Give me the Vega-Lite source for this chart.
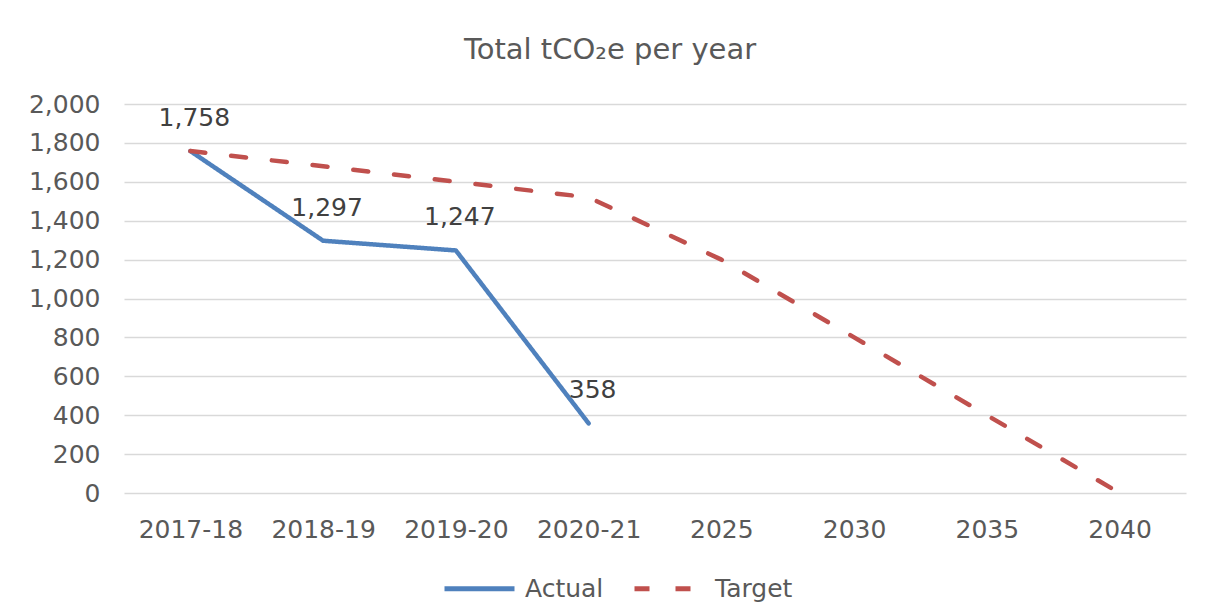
{
  "$schema": "https://vega.github.io/schema/vega-lite/v6.json",
  "autosize": {"type": "none"},
  "width": 1062,
  "height": 389,
  "padding": {"left": 124, "top": 104, "right": 20, "bottom": 122},
  "background": "white",
  "config": {
    "font": "DejaVu Sans",
    "view": {"stroke": null},
    "axis": {"labelFont": "DejaVu Sans", "labelColor": "#595959", "labelFontSize": 25, "ticks": false, "domain": false, "title": null},
    "legend": {"labelFont": "DejaVu Sans", "labelColor": "#595959", "labelFontSize": 25}
  },
  "title": {
    "text": "Total tCO₂e per year",
    "fontSize": 29,
    "font": "DejaVu Sans",
    "fontWeight": "normal",
    "color": "#595959",
    "anchor": "middle",
    "frame": "group",
    "dx": -45,
    "offset": 27
  },
  "data": {
    "values": [
      {"period": "2017-18", "series": "Actual", "value": 1758},
      {"period": "2018-19", "series": "Actual", "value": 1297},
      {"period": "2019-20", "series": "Actual", "value": 1247},
      {"period": "2020-21", "series": "Actual", "value": 358},
      {"period": "2017-18", "series": "Target", "value": 1758},
      {"period": "2018-19", "series": "Target", "value": 1680},
      {"period": "2019-20", "series": "Target", "value": 1600},
      {"period": "2020-21", "series": "Target", "value": 1520},
      {"period": "2025", "series": "Target", "value": 1200},
      {"period": "2030", "series": "Target", "value": 800},
      {"period": "2035", "series": "Target", "value": 400},
      {"period": "2040", "series": "Target", "value": 0}
    ]
  },
  "encoding": {
    "x": {
      "field": "period",
      "type": "ordinal",
      "sort": ["2017-18", "2018-19", "2019-20", "2020-21", "2025", "2030", "2035", "2040"],
      "scale": {"type": "point", "padding": 0.5},
      "axis": {"labelAngle": 0, "labelPadding": 24, "grid": false}
    },
    "y": {
      "field": "value",
      "type": "quantitative",
      "scale": {"domain": [0, 2000], "nice": false},
      "axis": {"values": [0, 200, 400, 600, 800, 1000, 1200, 1400, 1600, 1800, 2000], "format": ",.0f", "labelPadding": 24, "grid": true, "gridColor": "#d9d9d9", "gridWidth": 1.5}
    }
  },
  "layer": [
    {
      "mark": {"type": "line", "strokeWidth": 4.5, "strokeCap": "round", "strokeJoin": "round"},
      "encoding": {
        "color": {
          "field": "series",
          "type": "nominal",
          "scale": {"domain": ["Actual", "Target"], "range": ["#4F81BD", "#C0504D"]},
          "legend": {
            "title": null,
            "orient": "none",
            "direction": "horizontal",
            "legendX": 318,
            "legendY": 447,
            "symbolType": "stroke",
            "symbolSize": 4900,
            "symbolStrokeWidth": 5,
            "labelOffset": 8,
            "columnPadding": 20
          }
        },
        "strokeDash": {
          "field": "series",
          "type": "nominal",
          "scale": {"domain": ["Actual", "Target"], "range": [[1, 0], [15, 26]]},
          "legend": {
            "title": null,
            "orient": "none",
            "direction": "horizontal",
            "legendX": 318,
            "legendY": 447,
            "symbolType": "stroke",
            "symbolSize": 4900,
            "symbolStrokeWidth": 5,
            "labelOffset": 8,
            "columnPadding": 20
          }
        }
      }
    },
    {
      "transform": [{"filter": "datum.series === 'Actual'"}],
      "mark": {"type": "text", "fontSize": 25, "color": "#404040", "dy": -33, "dx": 4, "baseline": "middle", "font": "DejaVu Sans"},
      "encoding": {
        "text": {"field": "value", "type": "quantitative", "format": ","}
      }
    }
  ]
}
